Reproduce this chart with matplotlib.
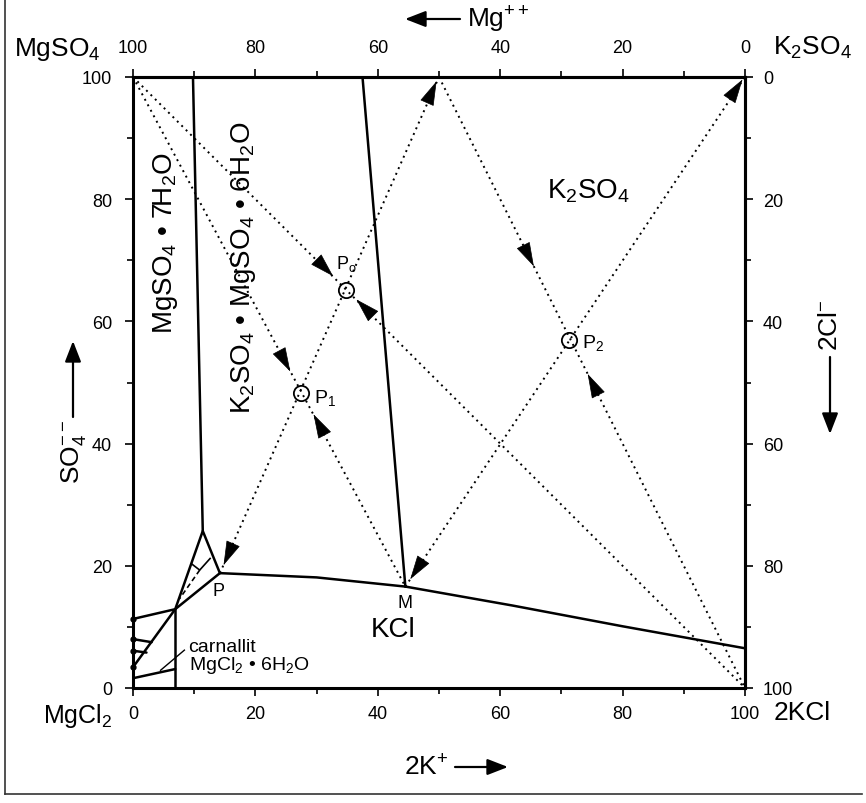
import matplotlib
matplotlib.use('Agg')
import matplotlib.pyplot as plt
from matplotlib import font_manager
from matplotlib.lines import Line2D
import numpy as np

names = {f.name for f in font_manager.fontManager.ttflist}
FONT = 'Liberation Sans Narrow' if 'Liberation Sans Narrow' in names else 'Liberation Sans'
plt.rcParams['font.family'] = [FONT, 'DejaVu Sans']
plt.rcParams['mathtext.fontset'] = 'custom'
plt.rcParams['mathtext.rm'] = FONT
plt.rcParams['mathtext.it'] = FONT
plt.rcParams['mathtext.default'] = 'regular'

# ---------------- data (x = 2K+ %, y = SO4-- %) ----------------
ticks_major = [0, 20, 40, 60, 80, 100]
ticks_minor = [10, 30, 50, 70, 90]

# solid phase boundaries
b_mg7_x = [9.8, 11.4]
b_mg7_y = [100, 25.7]
b_sch_x = [37.5, 44.5]
b_sch_y = [100, 16.6]
b_PM_x = [14.2, 30.0, 44.5]
b_PM_y = [18.8, 18.1, 16.6]
b_MK_x = [44.5, 62.0, 80.0, 100.0]
b_MK_y = [16.6, 13.5, 10.1, 6.5]
b_QP_x = [0.0, 6.9, 14.2]
b_QP_y = [11.3, 12.9, 18.8]
b_QT_x = [0.0, 6.9, 11.4, 14.2]
b_QT_y = [3.4, 12.9, 25.7, 18.8]
b_Qv_x = [6.9, 6.9]
b_Qv_y = [12.9, 0.0]
b_s1_x = [0.0, 3.05]
b_s1_y = [8.0, 7.5]
b_s2_x = [0.0, 2.2]
b_s2_y = [6.1, 5.8]
b_s3_x = [0.0, 6.9]
b_s3_y = [1.6, 3.1]
left_dots_y = [11.3, 8.0, 6.1, 3.4]
# small crystallisation path inside the triangle
tri_path_x = [9.6, 10.9, 12.6]
tri_path_y = [20.3, 19.3, 21.2]
tri_dash_x = [10.9, 7.6]
tri_dash_y = [19.3, 14.6]

# dotted crystallisation paths (start, end)
paths = [((0, 100), (100, 0)),
         ((0, 100), (44.5, 16.6)),
         ((14.2, 18.8), (50, 100)),
         ((50, 100), (100, 0)),
         ((44.5, 16.6), (100, 100))]

# arrow heads: (tip, point the arrow comes from)
arrows = [((32.7, 67.4), (0, 100)),
          ((36.5, 63.6), (100, 0)),
          ((25.7, 51.8), (0, 100)),
          ((29.5, 44.8), (44.5, 16.6)),
          ((14.8, 20.1), (50, 100)),
          ((49.6, 99.3), (14.2, 18.8)),
          ((65.5, 69.0), (50, 100)),
          ((74.3, 51.4), (100, 0)),
          ((99.6, 99.6), (44.5, 16.6)),
          ((45.3, 17.8), (100, 100))]

circ_x = [34.8, 27.4, 71.3]
circ_y = [65.2, 48.2, 57.0]

# ---------------- figure ----------------
W, H = 866, 804
fig = plt.figure(figsize=(W / 100, H / 100), dpi=100)
ax = fig.add_axes([133 / W, (H - 689) / H, 612 / W, 611 / H])
ax.set_xlim(0, 100)
ax.set_ylim(0, 100)

for s in ax.spines.values():
    s.set_linewidth(2.2)

ax.set_xticks(ticks_major)
ax.set_yticks(ticks_major)
ax.set_xticks(ticks_minor, minor=True)
ax.set_yticks(ticks_minor, minor=True)
ax.tick_params(which='both', direction='out', width=1.2, labelsize=13)
ax.tick_params(which='major', length=6)
ax.tick_params(which='minor', length=4)
ax.tick_params(axis='y', pad=9)
ax.tick_params(axis='x', pad=6)

rev = (lambda v: 100 - v, lambda v: 100 - v)
top = ax.secondary_xaxis('top', functions=rev)
top.set_xticks(ticks_major)
top.set_xticks(ticks_minor, minor=True)
top.tick_params(which='both', direction='out', width=1.2, labelsize=13, pad=9)
top.tick_params(which='major', length=6)
top.tick_params(which='minor', length=4)
right = ax.secondary_yaxis('right', functions=rev)
right.set_yticks(ticks_major)
right.set_yticks(ticks_minor, minor=True)
right.tick_params(which='both', direction='out', width=1.2, labelsize=13, pad=7)
right.tick_params(which='major', length=6)
right.tick_params(which='minor', length=4)
for sa in (top, right):
    for s in sa.spines.values():
        s.set_linewidth(2.2)

lw = 1.8
solid = dict(color='black', lw=lw, solid_capstyle='round', solid_joinstyle='round')
for xs, ys in [(b_mg7_x, b_mg7_y), (b_sch_x, b_sch_y), (b_PM_x, b_PM_y),
               (b_MK_x, b_MK_y), (b_QP_x, b_QP_y), (b_QT_x, b_QT_y),
               (b_Qv_x, b_Qv_y), (b_s1_x, b_s1_y), (b_s2_x, b_s2_y),
               (b_s3_x, b_s3_y)]:
    ax.plot(xs, ys, **solid)
ax.plot([0] * len(left_dots_y), left_dots_y, 'o', color='black', ms=3.5, clip_on=False)
ax.plot(tri_path_x, tri_path_y, color='black', lw=1.2)
ax.plot(tri_dash_x, tri_dash_y, color='black', lw=1.2, ls=(0, (3, 2)))

for (x0, y0), (x1, y1) in paths:
    ax.plot([x0, x1], [y0, y1], color='black', lw=1.4, ls=(0, (1, 2.2)))

# arrowheads
L = 3.6  # arrow head length in data units (~22 px)
for tip, src in arrows:
    t = np.array(tip, float)
    d = t - np.array(src, float)
    d = d / np.hypot(*d)
    base = t - L * d
    ax.annotate('', xy=tuple(t), xytext=tuple(base),
                arrowprops=dict(arrowstyle='-|>,head_length=1.0,head_width=0.3',
                                mutation_scale=16, fc='black', ec='black', lw=0.5,
                                shrinkA=0, shrinkB=0))

ax.plot(circ_x, circ_y, 'o', ms=11, mfc='none', mec='black', mew=1.3)

# labels inside the chart
ax.text(33.2, 69.5, r'P$_o$', fontsize=13, ha='left', va='center')
ax.text(29.5, 47.6, r'P$_1$', fontsize=14, ha='left', va='center')
ax.text(73.4, 56.6, r'P$_2$', fontsize=14, ha='left', va='center')
ax.text(14.0, 16.0, 'P', fontsize=13, ha='center', va='center')
ax.text(44.4, 14.0, 'M', fontsize=13, ha='center', va='center')
ax.text(74.5, 81.5, r'K$_2$SO$_4$', fontsize=20, ha='center', va='center')
ax.text(42.5, 9.6, 'KCl', fontsize=20, ha='center', va='center')
ax.text(5.3, 73.0, r'MgSO$_4$ • 7H$_2$O', fontsize=20, rotation=90, ha='center', va='center')
ax.text(18.0, 69.0, r'K$_2$SO$_4$ • MgSO$_4$ • 6H$_2$O', fontsize=20, rotation=90,
        ha='center', va='center')
ax.text(9.0, 6.8, 'carnallit', fontsize=14, ha='left', va='center')
ax.text(9.2, 3.9, r'MgCl$_2$ • 6H$_2$O', fontsize=14, ha='left', va='center')
ax.plot([4.5, 8.4], [2.9, 6.2], color='black', lw=1.0)

# corner labels
ax.text(-5.3, 104.7, r'MgSO$_4$', fontsize=19, ha='right', va='center', clip_on=False)
ax.text(104.6, 104.9, r'K$_2$SO$_4$', fontsize=19, ha='left', va='center', clip_on=False)
ax.text(-3.3, -4.5, r'MgCl$_2$', fontsize=18, ha='right', va='center', clip_on=False)
ax.text(104.6, -3.9, '2KCl', fontsize=19, ha='left', va='center', clip_on=False)

# axis titles with arrows (figure pixel coordinates)
def px(x, y):
    return (x / W, 1 - y / H)

def farrow(p0, p1):
    fig.add_artist(matplotlib.patches.FancyArrowPatch(
        px(*p0), px(*p1), transform=fig.transFigure,
        arrowstyle='-|>,head_length=0.9,head_width=0.35', mutation_scale=14,
        lw=1.6, color='black', shrinkA=0, shrinkB=0))

farrow((460, 20), (405, 20))
fig.text(*px(467, 20), r'Mg$^{++}$', fontsize=19, ha='left', va='center')
farrow((455, 768), (508, 768))
fig.text(*px(448, 768), r'2K$^{+}$', fontsize=19, ha='right', va='center')
farrow((73, 418), (73, 342))
fig.text(*px(73, 452), r'SO$_4^{--}$', fontsize=19, rotation=90, ha='center', va='center')
farrow((830, 358), (830, 435))
fig.text(*px(830, 325), r'2Cl$^{-}$', fontsize=19, rotation=90, ha='center', va='center')

# outer frame (left and bottom)
fig.add_artist(Line2D([5 / W, 5 / W], [1, 1 - 795 / H], transform=fig.transFigure,
                      color='#333333', lw=1.2))
fig.add_artist(Line2D([5 / W, 862 / W], [1 - 795 / H, 1 - 795 / H],
                      transform=fig.transFigure, color='#333333', lw=1.2))

fig.savefig('out.png', dpi=100)
